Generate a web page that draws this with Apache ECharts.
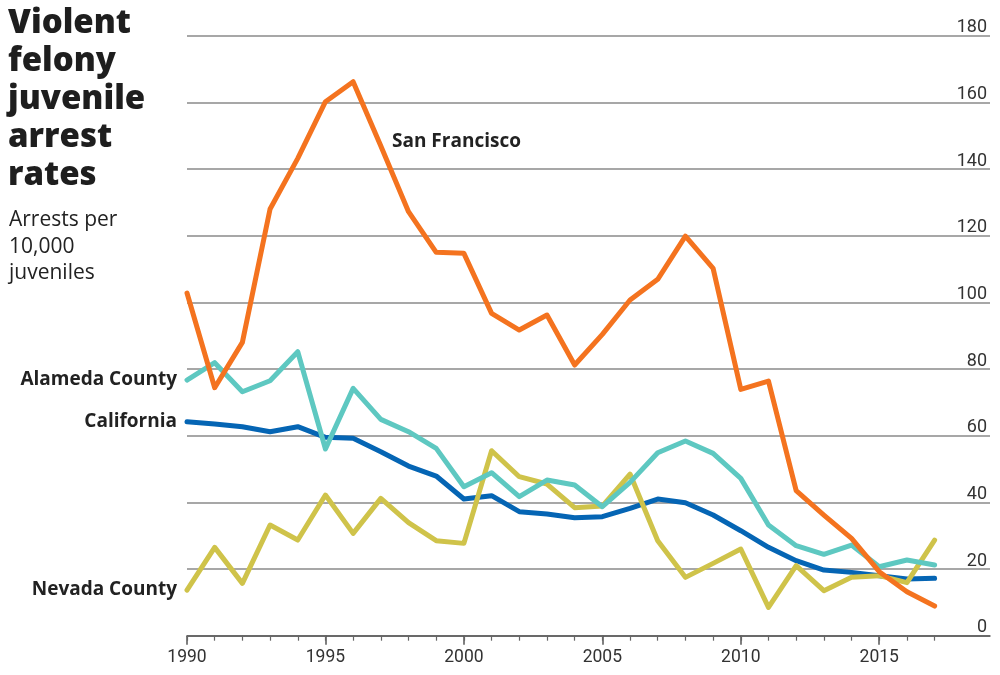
<!DOCTYPE html>
<html><head><meta charset="utf-8">
<script src="https://cdn.jsdelivr.net/npm/echarts@6/dist/echarts.min.js"></script>
<style>html,body{margin:0;padding:0;background:#fff}#c{width:1000px;height:675px}</style>
</head><body><div id="c"></div>
<script>
const years = [1990,1991,1992,1993,1994,1995,1996,1997,1998,1999,2000,2001,2002,2003,2004,2005,2006,2007,2008,2009,2010,2011,2012,2013,2014,2015,2016,2017];
const sanFrancisco = [102.8,74.4,88,128,143.2,160.2,166.2,146.9,127.2,115,114.7,96.7,91.7,96.2,81.2,90.4,100.7,106.9,119.9,110.2,73.9,76.4,43.5,36.2,29.2,19.2,13.2,8.9];
const alameda = [76.7,81.9,73.2,76.5,85.2,56,74.2,64.9,61.2,56.2,44.7,48.9,41.7,46.7,45.2,38.7,46,54.9,58.4,54.7,47.2,33.2,27,24.4,27.2,20.7,22.7,21.2];
const california = [64.2,63.5,62.7,61.2,62.7,59.5,59.2,55.2,50.9,47.9,41,42,37.2,36.5,35.4,35.7,38.2,41,39.9,36.2,31.5,26.5,22.5,19.7,19,18,17,17.2];
const nevada = [13.7,26.5,15.7,33.2,28.7,42.2,30.7,41.2,33.9,28.5,27.7,55.5,47.7,45.5,38.4,38.9,48.5,28.5,17.5,21.7,26,8.5,21,13.5,17.5,18,15.9,28.7];
const yearLabels = [1990,1995,2000,2005,2010,2015];
const seriesNames = ['California','Nevada County','Alameda County','San Francisco'];
const seriesColors = ['#0565b4','#cfc34a','#5ec8c1','#f4731f'];

const chart = echarts.init(document.getElementById('c'), null, {renderer:'canvas'});
const LFONT = '"Open Sans", Roboto, sans-serif';
const NFONT = 'Roboto, "Open Sans", sans-serif';

function mk(name, vals, color, labelFirst){
  return {
    name: name, type:'line', symbol:'circle', symbolSize:2, showSymbol:true, showAllSymbol:true, smooth:false,
    lineStyle:{color:color, width:5, cap:'round', join:'round'},
    itemStyle:{color:'rgba(0,0,0,0)', borderWidth:0},
    emphasis:{disabled:true},
    data: vals.map((v,i)=>{
      const d = {value:[years[i], v]};
      if(labelFirst && i===0){
        d.label = {show:true, position:'left', distance:9, formatter:name,
          fontFamily:LFONT, fontWeight:'bold', fontSize:19, color:'#222'};
      }
      return d;
    }),
    z: 2
  };
}

chart.setOption({
  animation:false,
  backgroundColor:'#fff',
  color: seriesColors,
  title:[
    {text:'Violent\nfelony\njuvenile\narrest\nrates', left:3, top:0,
     textStyle:{fontFamily:LFONT, fontWeight:800, fontSize:33, lineHeight:38, color:'#1e1e1e'}},
    {text:'Arrests per\n10,000\njuveniles', left:4, top:202,
     textStyle:{fontFamily:LFONT, fontWeight:'normal', fontSize:21, lineHeight:26.5, color:'#222'}}
  ],
  grid:{left:187, right:10, top:35.7, bottom:39.3, containLabel:false},
  xAxis:[{
    type:'value', min:1990, max:2019, interval:5,
    axisLine:{show:true, lineStyle:{color:'#555', width:1.5}},
    axisTick:{show:true, length:9, customValues:yearLabels, lineStyle:{color:'#555', width:1.5}},
    axisLabel:{customValues:yearLabels, margin:13, fontFamily:NFONT, fontSize:17.5, color:'#333', formatter:v=>String(v)},
    splitLine:{show:false}
  },{
    type:'value', min:1990, max:2019, interval:5, position:'bottom', offset:0,
    axisLine:{show:false},
    axisTick:{show:true, length:5, customValues:years, lineStyle:{color:'#666', width:1.2}},
    axisLabel:{show:false},
    splitLine:{show:false}
  }],
  yAxis:{
    type:'value', position:'right', min:0, max:180, interval:20,
    axisLine:{show:false}, axisTick:{show:false},
    axisLabel:{inside:true, margin:3, fontFamily:NFONT, fontWeight:'normal', fontSize:18, lineHeight:14, color:'#333',
      verticalAlign:'bottom', padding:[0,0,1,0], align:'right'},
    splitLine:{show:true, lineStyle:{color:'#8a8a8a', width:1.5}}
  },
  series:[
    mk(seriesNames[0], california, seriesColors[0], true),
    mk(seriesNames[1], nevada, seriesColors[1], true),
    mk(seriesNames[2], alameda, seriesColors[2], true),
    mk(seriesNames[3], sanFrancisco, seriesColors[3], false)
  ],
  graphic:[
    {type:'text', left:392, top:132, style:{text:'San Francisco', fontFamily:LFONT, fontWeight:'bold', fontSize:19, fill:'#222'}}
  ]
});
</script></body></html>
